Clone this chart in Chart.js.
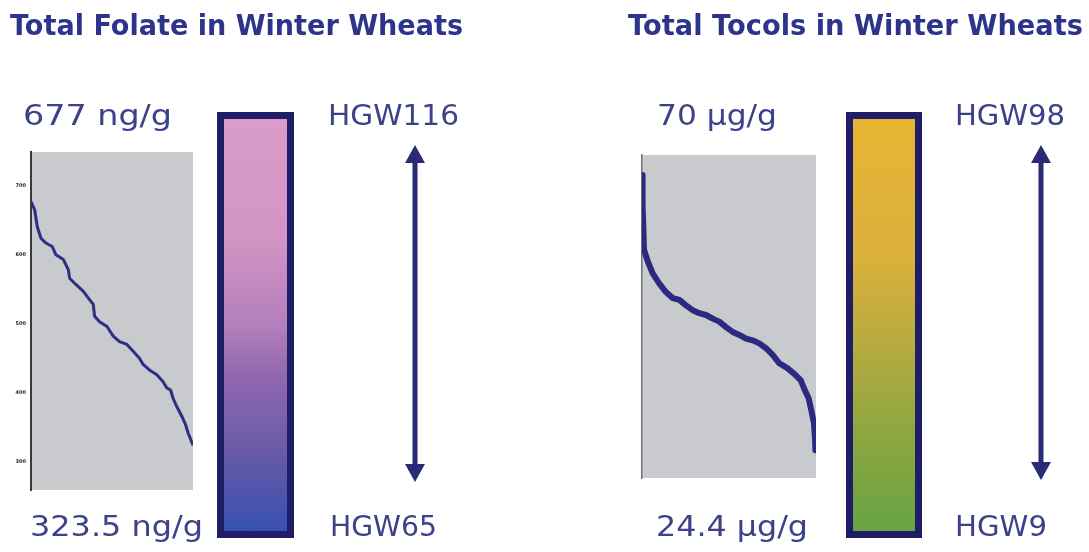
<!DOCTYPE html>
<html><head><meta charset="utf-8">
<script src="https://cdn.jsdelivr.net/npm/chart.js@4"></script>
<style>
html,body{margin:0;padding:0;background:#fff;width:1089px;height:552px;overflow:hidden}
#wrap{position:relative;width:1089px;height:552px}
canvas{position:absolute}
svg{position:absolute;left:0;top:0}
text{font-family:"DejaVu Sans",sans-serif}
</style></head><body>
<div id="wrap">
<canvas id="folate" width="200" height="360" style="left:0;top:140px"></canvas>
<canvas id="tocol" width="200" height="350" style="left:630px;top:140px"></canvas>
<svg id="deco" width="1089" height="552" xmlns="http://www.w3.org/2000/svg">
  <defs>
    <linearGradient id="gFol" x1="0" y1="0" x2="0" y2="1">
      <stop offset="0" stop-color="#da9dc9"/>
      <stop offset="0.3" stop-color="#d194c4"/>
      <stop offset="0.5" stop-color="#b37fbb"/>
      <stop offset="0.62" stop-color="#9168b0"/>
      <stop offset="0.8" stop-color="#6a5aa8"/>
      <stop offset="1" stop-color="#3450b0"/>
    </linearGradient>
    <linearGradient id="gToc" x1="0" y1="0" x2="0" y2="1">
      <stop offset="0" stop-color="#e9b533"/>
      <stop offset="0.35" stop-color="#d8b03c"/>
      <stop offset="0.55" stop-color="#b6ab40"/>
      <stop offset="0.75" stop-color="#8fa640"/>
      <stop offset="1" stop-color="#66a443"/>
    </linearGradient>
  </defs>
  <text x="10" y="35" font-size="28" font-weight="bold" fill="#2c358b" textLength="453" lengthAdjust="spacingAndGlyphs">Total Folate in Winter Wheats</text>
  <text x="628" y="35" font-size="28" font-weight="bold" fill="#2c358b" textLength="455" lengthAdjust="spacingAndGlyphs">Total Tocols in Winter Wheats</text>

  <text x="23" y="125" font-size="28" fill="#3c4189" textLength="149" lengthAdjust="spacingAndGlyphs">677 ng/g</text>
  <text x="328" y="125" font-size="28" fill="#3c4189" textLength="131" lengthAdjust="spacingAndGlyphs">HGW116</text>
  <text x="30" y="536" font-size="28" fill="#3c4189" textLength="173" lengthAdjust="spacingAndGlyphs">323.5 ng/g</text>
  <text x="330" y="536" font-size="28" fill="#3c4189" textLength="107" lengthAdjust="spacingAndGlyphs">HGW65</text>

  <text x="657" y="125" font-size="28" fill="#3c4189" textLength="120" lengthAdjust="spacingAndGlyphs">70 µg/g</text>
  <text x="955" y="125" font-size="28" fill="#3c4189" textLength="110" lengthAdjust="spacingAndGlyphs">HGW98</text>
  <text x="656" y="536" font-size="28" fill="#3c4189" textLength="152" lengthAdjust="spacingAndGlyphs">24.4 µg/g</text>
  <text x="955" y="536" font-size="28" fill="#3c4189" textLength="92" lengthAdjust="spacingAndGlyphs">HGW9</text>

  <rect x="220.5" y="115.5" width="70" height="419" fill="url(#gFol)" stroke="#1e1d66" stroke-width="7"/>
  <rect x="849.5" y="115.5" width="69" height="419" fill="url(#gToc)" stroke="#1e1d66" stroke-width="7"/>

  <g fill="#2a2a78" stroke="none">
    <rect x="412.5" y="160" width="5" height="306"/>
    <polygon points="415,145 405,163 425,163"/>
    <polygon points="415,482 405,464 425,464"/>
    <rect x="1038.5" y="160" width="5" height="304"/>
    <polygon points="1041,145 1031,163 1051,163"/>
    <polygon points="1041,480 1031,462 1051,462"/>
  </g>
</svg>
</div>
<script>
// Total folate (ng/g) of winter wheat varieties, sorted high to low, by rank
const folateRank  = [0,3,5,8,12,17,20,26,30,31,36,42,47,50,51,55,61,66,71,77,82,87,90,95,101,106,109,112,114,117,121,124,126,130];
const folateValue = [677,665,641,624,617,612,600,593,578,566,557,547,535,528,511,503,496,482,474,470,460,450,441,433,426,416,407,404,392,380,366,354,342,324];
const folateTicks = [300,400,500,600,700];

// Total tocols (µg/g) of winter wheat varieties, sorted high to low, by rank
const tocolRank  = [0,0.3,0.6,0.9,1.5,4,8,13,18,23,28,33,38,43,48,53,58,63,68,73,78,83,88,93,98,103,109,114,119,122,125,127,129,129.8,130];
const tocolValue = [70,67.5,64.7,62.0,57.6,55.9,53.7,52.0,50.6,49.6,49.3,48.4,47.6,47.1,46.8,46.2,45.7,44.8,44.0,43.5,42.9,42.6,42.1,41.3,40.2,38.8,38.0,37.1,36.0,34.4,33.0,31.0,28.8,26.1,24.4];

const bgPlugin = {
  id:'plotBg',
  beforeDraw(chart){
    const {ctx, chartArea:a} = chart;
    ctx.save();
    ctx.fillStyle = '#c8cacd';
    ctx.fillRect(a.left, a.top, a.right - a.left, a.bottom - a.top);
    ctx.restore();
  }
};

function pts(r, v){ return r.map((x,i)=>({x:x, y:v[i]})); }

new Chart(document.getElementById('folate'), {
  type:'line',
  data:{datasets:[{data:pts(folateRank, folateValue), borderColor:'#2f2d86', borderWidth:3, pointRadius:0, tension:0, fill:false, borderJoinStyle:'round'}]},
  options:{
    responsive:false, animation:false, devicePixelRatio:1,
    layout:{padding:{left:0, top:12, right:7, bottom:10}},
    plugins:{legend:{display:false}, tooltip:{enabled:false}},
    scales:{
      x:{type:'linear', min:0, max:130, display:false},
      y:{min:259, max:749,
         afterFit(s){ s.width = 31; },
         afterBuildTicks(s){ s.ticks = folateTicks.map(v=>({value:v})); },
         grid:{display:false, drawTicks:false},
         border:{display:true, color:'#3a3a3a', width:2},
         ticks:{font:{size:5, family:'DejaVu Sans', weight:'bold'}, color:'#222', padding:5}}
    }
  },
  plugins:[bgPlugin]
});

new Chart(document.getElementById('tocol'), {
  type:'line',
  data:{datasets:[{data:pts(tocolRank, tocolValue), borderColor:'#2b2a80', borderWidth:6, pointRadius:0, tension:0, fill:false, borderJoinStyle:'round', borderCapStyle:'round'}]},
  options:{
    responsive:false, animation:false, devicePixelRatio:1,
    layout:{padding:{left:0, top:15, right:14, bottom:12}},
    plugins:{legend:{display:false}, tooltip:{enabled:false}},
    scales:{
      x:{type:'linear', min:0, max:130.5, display:false},
      y:{min:19.8, max:73.3,
         afterFit(s){ s.width = 12; },
         grid:{display:false, drawTicks:false},
         border:{display:true, color:'#707070', width:1.5},
         ticks:{display:false}}
    }
  },
  plugins:[bgPlugin]
});
</script>
</body></html>
